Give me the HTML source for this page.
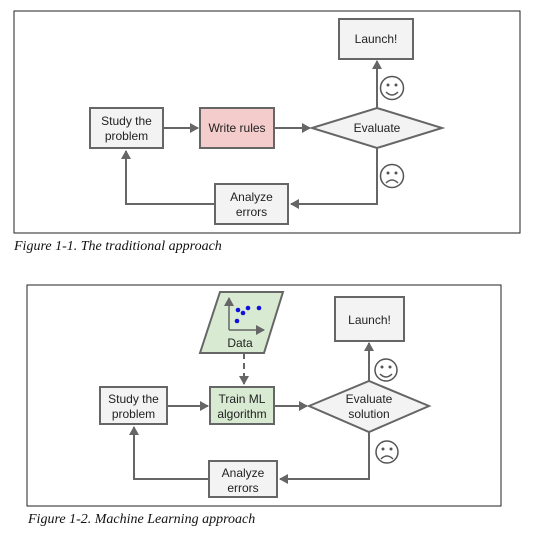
<!DOCTYPE html>
<html><head><meta charset="utf-8"><style>
body{margin:0;background:#fff;width:533px;height:536px;overflow:hidden}
svg{display:block}
text{font-family:"Liberation Sans",sans-serif;font-size:12px;fill:#222}
.cap{font-family:"Liberation Serif",serif;font-style:italic;font-size:14px;fill:#111}
.b{fill:#f3f3f3;stroke:#666;stroke-width:2}
.l{stroke:#666;stroke-width:2;fill:none}
</style></head><body>
<svg width="533" height="536" viewBox="0 0 533 536">
<defs><marker id="a" markerWidth="10" markerHeight="10" refX="8" refY="5" orient="auto" markerUnits="userSpaceOnUse"><path d="M0,0 L9,5 L0,10 z" fill="#666"/></marker></defs>
<rect x="14" y="11" width="506" height="222" fill="none" stroke="#222" stroke-width="1"/>
<line class="l" x1="163" y1="128" x2="198" y2="128" marker-end="url(#a)"/>
<line class="l" x1="274" y1="128" x2="310" y2="128" marker-end="url(#a)"/>
<line class="l" x1="377" y1="108" x2="377" y2="61" marker-end="url(#a)"/>
<polyline class="l" points="377,148 377,204 291,204" marker-end="url(#a)"/>
<polyline class="l" points="215,204 126,204 126,151" marker-end="url(#a)"/>
<rect class="b" x="90" y="108" width="73" height="40"/>
<text x="126.5" y="125" text-anchor="middle">Study the</text><text x="126.5" y="140" text-anchor="middle">problem</text>
<rect class="b" x="200" y="108" width="74" height="40" style="fill:#f4cccc"/>
<text x="237" y="132" text-anchor="middle">Write rules</text>
<polygon class="b" points="312,128 377,108 442,128 377,148"/>
<text x="377" y="132" text-anchor="middle">Evaluate</text>
<rect class="b" x="339" y="19" width="74" height="40"/>
<text x="376" y="43" text-anchor="middle">Launch!</text>
<rect class="b" x="215" y="184" width="73" height="40"/>
<text x="251.5" y="201" text-anchor="middle">Analyze</text><text x="251.5" y="216" text-anchor="middle">errors</text>
<g stroke="#555" stroke-width="1.5" fill="none"><circle cx="392" cy="88" r="11.5"/><path d="M386,92 Q392,98 398,92"/><circle cx="392" cy="176" r="11.5"/><path d="M386,183 Q392,177 398,183"/></g>
<g fill="#555"><circle cx="388" cy="85" r="1.5"/><circle cx="396" cy="85" r="1.5"/><circle cx="388" cy="173" r="1.5"/><circle cx="396" cy="173" r="1.5"/></g>
<text class="cap" x="14" y="250">Figure 1-1. The traditional approach</text>
<rect x="27" y="285" width="474" height="221" fill="none" stroke="#222" stroke-width="1"/>
<line class="l" x1="244" y1="353" x2="244" y2="384" stroke-dasharray="6,4" marker-end="url(#a)"/>
<line class="l" x1="167" y1="406" x2="208" y2="406" marker-end="url(#a)"/>
<line class="l" x1="274" y1="406" x2="307" y2="406" marker-end="url(#a)"/>
<line class="l" x1="369" y1="381" x2="369" y2="343" marker-end="url(#a)"/>
<polyline class="l" points="369,432 369,479 280,479" marker-end="url(#a)"/>
<polyline class="l" points="209,479 134,479 134,427" marker-end="url(#a)"/>
<polygon class="b" points="220,292 283,292 264,353 200,353" style="fill:#d9ead3"/>
<line class="l" x1="229" y1="330" x2="264" y2="330" marker-end="url(#a)" style="stroke-width:1.5"/>
<line class="l" x1="229" y1="330" x2="229" y2="298" marker-end="url(#a)" style="stroke-width:1.5"/>
<g fill="#1010dd"><circle cx="237" cy="321" r="2.3"/><circle cx="238" cy="310" r="2.3"/><circle cx="243" cy="313" r="2.3"/><circle cx="248" cy="308" r="2.3"/><circle cx="259" cy="308" r="2.3"/></g>
<text x="240" y="347" text-anchor="middle">Data</text>
<rect class="b" x="100" y="387" width="67" height="37"/>
<text x="133.5" y="403" text-anchor="middle">Study the</text><text x="133.5" y="418" text-anchor="middle">problem</text>
<rect class="b" x="210" y="387" width="64" height="37" style="fill:#d9ead3"/>
<text x="242" y="403" text-anchor="middle">Train ML</text><text x="242" y="418" text-anchor="middle">algorithm</text>
<polygon class="b" points="309,406 369,381 429,406 369,432"/>
<text x="369" y="403" text-anchor="middle">Evaluate</text><text x="369" y="418" text-anchor="middle">solution</text>
<rect class="b" x="335" y="297" width="69" height="44"/>
<text x="369.5" y="324" text-anchor="middle">Launch!</text>
<rect class="b" x="209" y="461" width="68" height="36"/>
<text x="243" y="477" text-anchor="middle">Analyze</text><text x="243" y="492" text-anchor="middle">errors</text>
<g stroke="#555" stroke-width="1.5" fill="none"><circle cx="386" cy="370" r="11"/><path d="M380,374 Q386,380 392,374"/><circle cx="387" cy="452" r="11"/><path d="M381,459 Q387,453 393,459"/></g>
<g fill="#555"><circle cx="382" cy="367" r="1.5"/><circle cx="390" cy="367" r="1.5"/><circle cx="383" cy="449" r="1.5"/><circle cx="391" cy="449" r="1.5"/></g>
<text class="cap" x="28" y="523">Figure 1-2. Machine Learning approach</text>
</svg>
</body></html>
